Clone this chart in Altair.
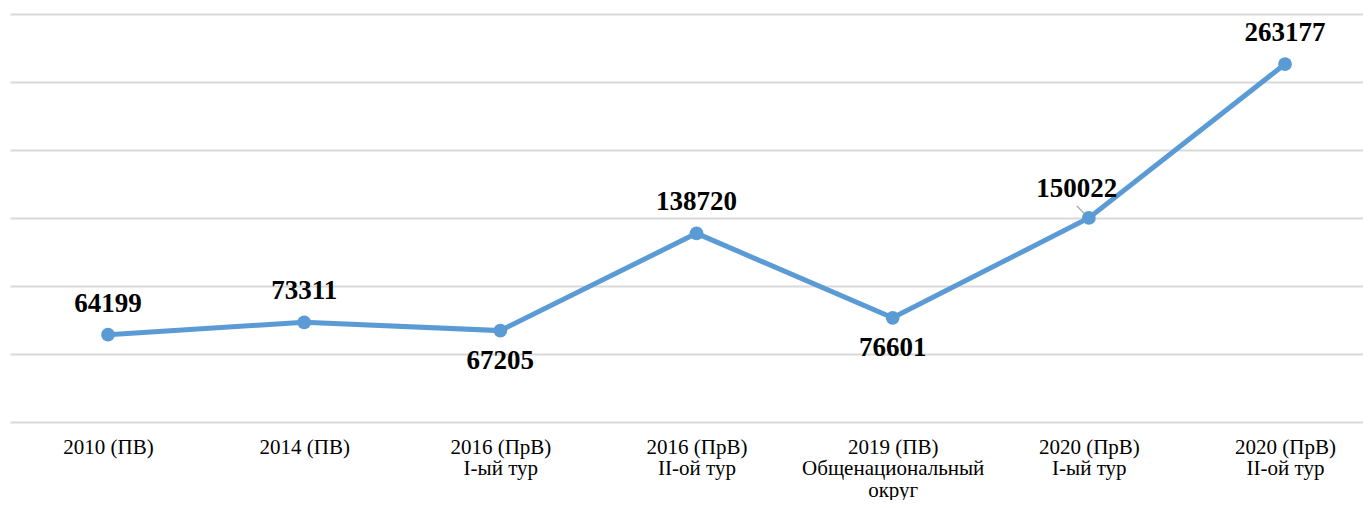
import altair as alt
import pandas as pd

categories = [
    "2010 (ПВ)",
    "2014 (ПВ)",
    "2016 (ПрВ)|I-ый тур",
    "2016 (ПрВ)|II-ой тур",
    "2019 (ПВ)|Общенациональный|округ",
    "2020 (ПрВ)|I-ый тур",
    "2020 (ПрВ)|II-ой тур",
]
values = [64199, 73311, 67205, 138720, 76601, 150022, 263177]
label_pos = ["above", "above", "below", "above", "below", "left", "above"]

idx = list(range(len(categories)))
df = pd.DataFrame({"idx": idx, "cat": categories, "value": values, "pos": label_pos})

cat_array = "[" + ",".join("'" + c + "'" for c in categories) + "]"

x = alt.X(
    "idx:Q",
    scale=alt.Scale(domain=[-0.4996, 6.3975], nice=False, zero=False),
    axis=alt.Axis(
        title=None,
        values=idx,
        labelExpr="split(" + cat_array + "[datum.value], '|')",
        domain=False,
        ticks=False,
        tickSize=0,
        grid=False,
        labelFont="Liberation Serif",
        labelFontSize=21,
        labelColor="#000000",
        labelAngle=0,
        labelBaseline="alphabetic",
        labelPadding=31,
        labelLineHeight=21.5,
        labelLimit=400,
        labelOverlap=False,
        labelFlush=False,
    ),
)
y = alt.Y(
    "value:Q",
    scale=alt.Scale(domain=[0, 300000], nice=False),
    axis=alt.Axis(
        title=None,
        labels=False,
        ticks=False,
        domain=False,
        grid=True,
        values=[0, 50000, 100000, 150000, 200000, 250000, 300000],
        gridColor="#d9d9d9",
        gridWidth=2,
    ),
)

base = alt.Chart(df)

line = base.mark_line(color="#5B9BD5", strokeWidth=5).encode(x=x, y=y)
points = base.mark_circle(color="#5B9BD5", size=190, opacity=1).encode(x=x, y=y)

text_style = dict(font="Liberation Serif", fontSize=27, fontWeight="bold", color="#000000",
                  baseline="alphabetic", align="center")

above = base.transform_filter(alt.datum.pos == "above").mark_text(dy=-23, **text_style).encode(
    x=x, y=y, text=alt.Text("value:Q", format="d"))
below = base.transform_filter(alt.datum.pos == "below").mark_text(dy=38, **text_style).encode(
    x=x, y=y, text=alt.Text("value:Q", format="d"))
left = base.transform_filter(alt.datum.pos == "left").mark_text(dx=-12, dy=-21, **text_style).encode(
    x=x, y=y, text=alt.Text("value:Q", format="d"))

leader = base.transform_filter(alt.datum.pos == "left").mark_rule(
    color="#a6a6a6", strokeWidth=1.2, xOffset=-12, yOffset=-12, x2Offset=-1, y2Offset=-1
).encode(x=x, y=y, x2=alt.X2("idx:Q"), y2=alt.Y2("value:Q"))

chart = (
    alt.layer(line, leader, points, above, below, left)
    .properties(
        width=1353,
        height=408,
        background="white",
        autosize=alt.AutoSizeParams(type="none"),
        padding={"left": 2, "top": 6, "right": 0, "bottom": 78},
    )
    .configure_view(strokeWidth=0, stroke="transparent")
)

chart.save("out.html", embed_options={"renderer": "svg", "actions": False})
